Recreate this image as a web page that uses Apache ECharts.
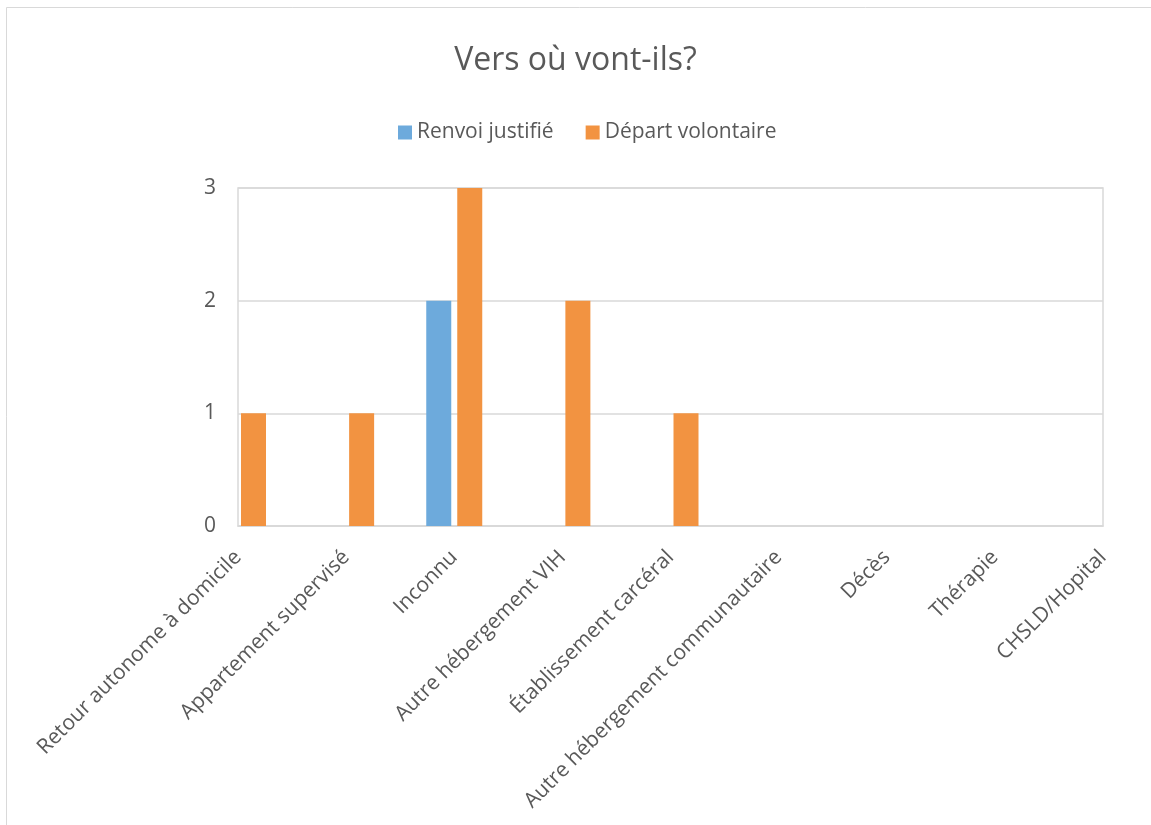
<!DOCTYPE html>
<html>
<head>
<meta charset="utf-8">
<script src="https://cdn.jsdelivr.net/npm/echarts@6/dist/echarts.min.js"></script>
<style>
html,body{margin:0;padding:0;background:#fff;}
#c{width:1151px;height:825px;}
</style>
</head>
<body>
<div id="c"></div>
<script>
const categories = ["Retour autonome à domicile","Appartement supervisé","Inconnu","Autre hébergement VIH","Établissement carcéral","Autre hébergement communautaire","Décès","Thérapie","CHSLD/Hopital"];
const renvoiJustifie = [0,0,2,0,0,0,0,0,0];
const departVolontaire = [1,1,3,2,1,0,0,0,0];
const yTicks = [0,1,2,3];

const font = "'Open Sans', sans-serif";
const chart = echarts.init(document.getElementById('c'));
chart.setOption({
  backgroundColor: '#fff',
  animation: false,
  graphic: [{
    type: 'rect', silent: true,
    shape: {x: 6.5, y: 7.5, width: 1200, height: 900},
    style: {fill: 'none', stroke: '#d9d9d9', lineWidth: 1}
  }],
  title: {
    text: 'Vers où vont-ils?',
    left: 'center', top: 40,
    textStyle: {fontFamily: font, fontSize: 32, fontWeight: 'normal', color: '#595959'}
  },
  legend: {
    top: 117, left: 393,
    itemWidth: 14, itemHeight: 14, itemGap: 32,
    icon: 'rect',
    textStyle: {fontFamily: font, fontSize: 21, color: '#595959'},
    data: ['Renvoi justifié','Départ volontaire']
  },
  grid: {left: 238, right: 48, top: 188, bottom: 299, show: true, borderColor: '#d9d9d9', borderWidth: 1.5},
  xAxis: {
    type: 'category', data: categories, boundaryGap: false,
    axisLine: {lineStyle: {color: '#d9d9d9', width: 1.5}},
    axisTick: {show: false},
    axisLabel: {rotate: 45, interval: 0, margin: 28, fontFamily: font, fontSize: 21, color: '#595959'},
    splitLine: {show: false}
  },
  yAxis: {
    type: 'value', min: yTicks[0], max: yTicks[yTicks.length-1], interval: 1,
    axisLine: {show: false}, axisTick: {show: false},
    axisLabel: {margin: 22, fontFamily: font, fontSize: 21, color: '#595959', padding: [6,0,0,0]},
    splitLine: {lineStyle: {color: '#d9d9d9', width: 1.5}}
  },
  series: [
    {name: 'Renvoi justifié', type: 'bar', data: renvoiJustifie, barWidth: 25, barGap: '24%', itemStyle: {color: '#6DAADC'}},
    {name: 'Départ volontaire', type: 'bar', data: departVolontaire, barWidth: 25, barGap: '24%', itemStyle: {color: '#F29341'}}
  ]
});
</script>
</body>
</html>
